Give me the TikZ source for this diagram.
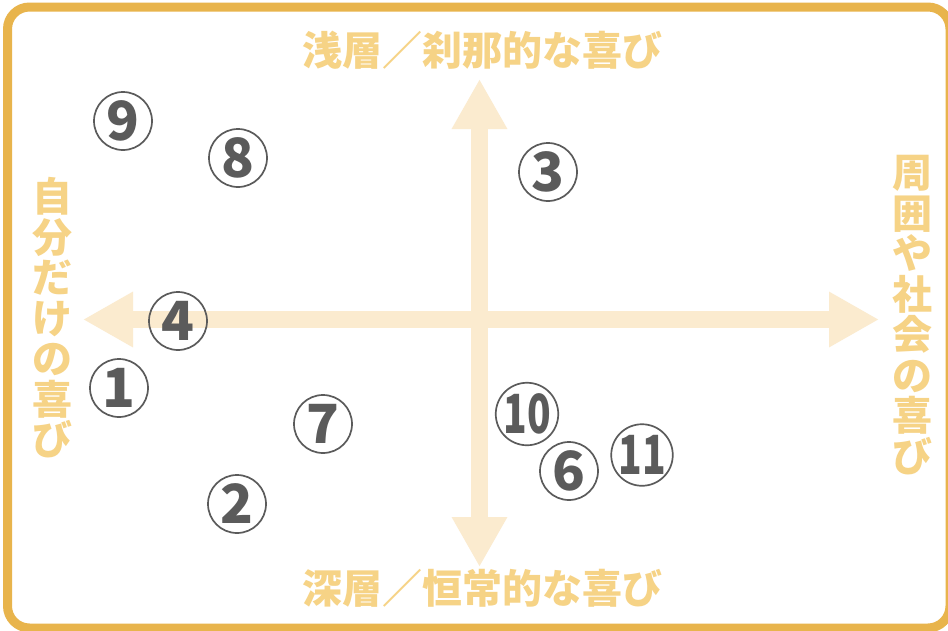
\documentclass[tikz,border=0pt]{standalone}
\usepackage{fontspec}
\usepackage{graphicx}
\newfontfamily\cjk{Noto Sans CJK JP}
\usetikzlibrary{arrows.meta}
\definecolor{framecol}{HTML}{E8B44C}
\definecolor{axiscol}{HTML}{FBEBCF}
\definecolor{labcol}{HTML}{F6D386}
\definecolor{numcol}{HTML}{5B5B5B}
\begin{document}
\begin{tikzpicture}[x=1pt,y=-1pt,
  axisline/.style={draw=axiscol,line width=17pt,
    {Triangle[length=50pt,width=52pt]}-{Triangle[length=50pt,width=52pt]}},
  lab/.style={text=labcol,inner sep=0pt,font=\cjk\bfseries\fontsize{40}{40}\selectfont},
  vlab/.style={lab,align=center,font=\cjk\bfseries\fontsize{40}{40.5}\selectfont},
  num/.style={circle,draw=numcol,line width=1.7pt,minimum size=58pt,inner sep=0pt,
    text=numcol,font=\cjk\bfseries\fontsize{54}{54}\selectfont}]
\useasboundingbox (0,0) rectangle (948,630);
\clip (0,0) rectangle (948,630);
\fill[white] (0,0) rectangle (948,630);
\draw[framecol,line width=9pt,rounded corners=22pt] (7.5,7) rectangle (950,628);
% axes
\coordinate (top) at (479.5,79);
\coordinate (bot) at (479.5,567);
\coordinate (lft) at (83,319.5);
\coordinate (rgt) at (879,319.5);
\draw[axisline] (lft) -- (rgt);
\draw[axisline] (bot) -- (top);
% labels
\node[lab] (ltop) at (482,50) {浅層／刹那的な喜び};
\node[lab] (lbot) at (482,588) {深層／恒常的な喜び};
\node[vlab] (lleft) at (52,318) {自\\分\\だ\\け\\の\\喜\\び};
\node[vlab] (lright) at (912,315) {周\\囲\\や\\社\\会\\の\\喜\\び};
% circled numbers
\node[num] (n9) at (123,121) {9};
\node[num] (n8) at (238,158) {8};
\node[num] (n3) at (548,172) {3};
\node[num] (n4) at (178,321) {4};
\node[num] (n1) at (119,388) {1};
\node[num] (n7) at (323,424) {7};
\node[num] (n2) at (237,504) {2};
\node[num] (n10) at (527,414) {\scalebox{0.72}[1]{10}};
\node[num] (n6) at (569,471) {6};
\node[num] (n11) at (642,455) {\scalebox{0.72}[1]{11}};
\end{tikzpicture}
\end{document}
